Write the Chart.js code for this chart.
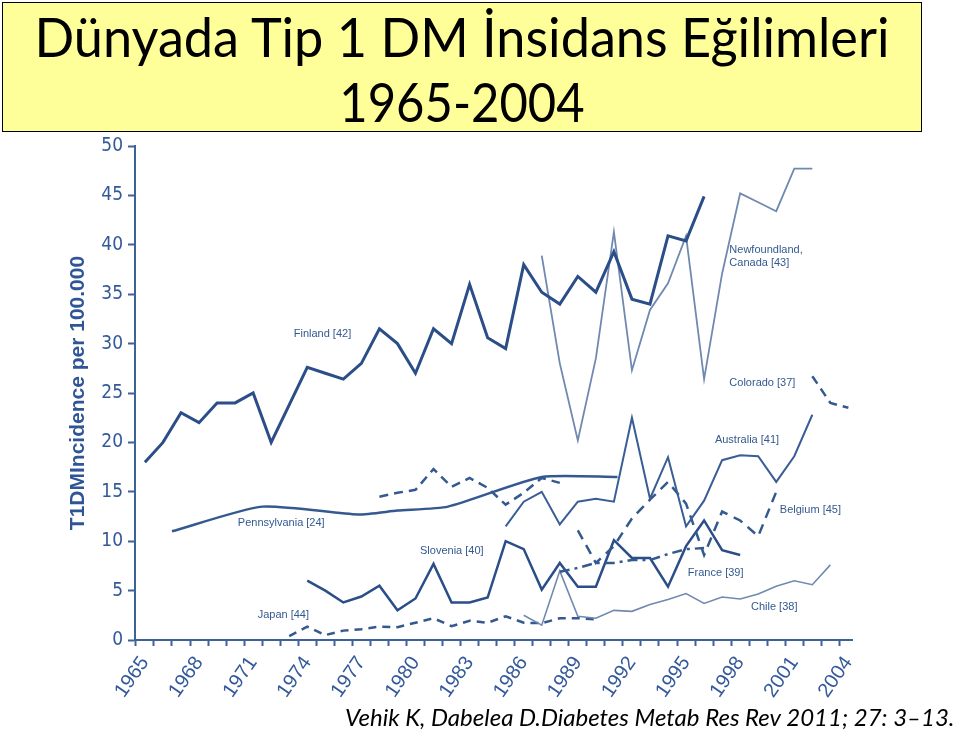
<!DOCTYPE html>
<html>
<head>
<meta charset="utf-8">
<script src="https://cdn.jsdelivr.net/npm/chart.js@4.4.1/dist/chart.umd.min.js"></script>
<style>
  html, body { margin: 0; padding: 0; background: #fff; }
  #wrap { position: relative; width: 960px; height: 734px; overflow: hidden; }
  #titleBox {
    position: absolute; left: 2px; top: 2px; width: 918px; height: 128px;
    background: #ffff99; border: 1.5px solid #000;
  }
  .tline {
    position: absolute; left: 0; width: 100%; text-align: center;
    font-family: Lato, sans-serif; font-size: 55px; color: #000; white-space: nowrap;
  }
  #cite {
    position: absolute; left: 345px; top: 702px; white-space: nowrap;
    font-family: Lato, sans-serif; font-style: italic; font-size: 24px; color: #000;
  }
  canvas { position: absolute; left: 0; top: 0; }
</style>
</head>
<body>
<div id="wrap">
  <canvas id="chart" width="960" height="734"></canvas>
  <div id="titleBox">
    <div class="tline" style="top: 0px; transform: scaleX(0.95);">Dünyada Tip 1 DM İnsidans Eğilimleri</div>
    <div class="tline" style="top: 65px; transform: scaleX(0.89);">1965-2004</div>
  </div>
  <div id="cite">Vehik K, Dabelea D.Diabetes Metab Res Rev 2011; 27: 3–13.</div>
</div>
<script>
// T1DM incidence per 100.000
const tickYears = [1965, 1968, 1971, 1974, 1977, 1980, 1983, 1986, 1989, 1992, 1995, 1998, 2001, 2004];

const finlandStart = 1965;
const finland = [18.0, 20.0, 23.0, 22.0, 24.0, 24.0, 25.0, 20.0, 23.8, 27.6, 27.0, 26.4, 28.0, 31.5, 30.0, 27.0,
  31.5, 30.0, 36.0, 30.6, 29.5, 38.0, 35.2, 34.0, 36.8, 35.2, 39.3, 34.5, 34.0, 40.9, 40.4, 44.9];

const pennsylvaniaYears = [1966.5, 1971.5, 1976.8, 1979, 1981.8, 1987, 1991.2];
const pennsylvania = [11.0, 13.5, 12.7, 13.1, 13.5, 16.5, 16.5];

const newfoundlandStart = 1987;
const newfoundland = [38.9, 28.0, 20.2, 28.5, 41.3, 27.3, 33.4, 36.1, 40.9, 26.4, 37.1, 45.2, 44.3, 43.4, 47.7, 47.7];

const coloradoStart = 1978;   // registry 1978-1988, then 2002-2004
const colorado = [14.5, 14.9, 15.2, 17.3, 15.5, 16.4, 15.4, 13.7, 14.9, 16.4, 15.9];
const colorado2Start = 2002;
const colorado2 = [26.7, 24.0, 23.5];

const australiaStart = 1985;
const australia = [11.5, 14.0, 15.0, 11.7, 14.0, 14.3, 14.0, 22.5, 14.3, 18.5, 11.5, 14.1, 18.2, 18.7, 18.6, 16.0, 18.6, 22.8];

const belgiumStart = 1989;
const belgium = [11.1, 7.8, 9.5, 12.3, 14.2, 16.0, 13.8, 8.6, 13.0, 12.1, 10.5, 15.0];

const franceStart = 1988;
const france = [6.9, 7.3, 7.8, 7.8, 8.1, 8.1, 8.7, 9.2, 9.3];

const sloveniaStart = 1974;
const slovenia = [6.0, 5.0, 3.8, 4.4, 5.5, 3.0, 4.2, 7.7, 3.8, 3.8, 4.3, 10.0, 9.2, 5.1, 7.8, 5.4, 5.4, 10.1, 8.3, 8.3,
  5.4, 9.5, 12.1, 9.1, 8.6];

const chileStart = 1986;
const chile = [2.5, 1.5, 7.0, 2.4, 2.2, 3.0, 2.9, 3.6, 4.1, 4.7, 3.7, 4.35, 4.15, 4.65, 5.45, 6.0, 5.6, 7.6];

const japanStart = 1973;
const japan = [0.4, 1.35, 0.5, 0.95, 1.1, 1.35, 1.3, 1.75, 2.2, 1.4, 1.95, 1.75, 2.4, 1.75, 1.7, 2.2, 2.2, 2.1];

// series name labels placed in data space (year, incidence)
const seriesLabels = [
  { text: "Finland [42]", year: 1973.25, value: 31.0 },
  { text: "Pennsylvania [24]", year: 1970.15, value: 11.8 },
  { text: "Japan [44]", year: 1971.25, value: 2.5 },
  { text: "Slovenia [40]", year: 1980.25, value: 9.0 },
  { text: "Newfoundland,", year: 1997.4, value: 39.5 },
  { text: "Canada [43]", year: 1997.4, value: 38.2 },
  { text: "Colorado [37]", year: 1997.4, value: 26.0 },
  { text: "Australia [41]", year: 1996.6, value: 20.2 },
  { text: "Belgium [45]", year: 2000.2, value: 13.2 },
  { text: "France [39]", year: 1995.1, value: 6.8 },
  { text: "Chile [38]", year: 1998.6, value: 3.3 }
];

function pts(start, vals) {
  return vals.map((v, i) => ({ x: start + i, y: v }));
}

const dark = "#2b4e88";
const mid = "#34598f";
const light = "#7089b0";
const axisBlue = "#3d6199";

function line(data, color, width, dash) {
  return {
    data: data, borderColor: color, borderWidth: width, borderDash: dash || [],
    pointRadius: 0, fill: false, tension: 0, borderCapStyle: "butt", borderJoinStyle: "miter"
  };
}

const datasets = [
  line(pts(finlandStart, finland), dark, 3),
  Object.assign(line(pennsylvaniaYears.map((x, i) => ({ x: x, y: pennsylvania[i] })), mid, 2.5), { tension: 0.2 }),
  line(pts(newfoundlandStart, newfoundland), light, 1.8),
  line(pts(coloradoStart, colorado), mid, 2.5, [9, 6]),
  line(pts(colorado2Start, colorado2), mid, 2.5, [9, 6]),
  line(pts(australiaStart, australia), "#3a5d96", 2),
  line(pts(belgiumStart, belgium), mid, 2.5, [10, 7]),
  line(pts(franceStart, france), mid, 2.5, [10, 5, 3, 5]),
  line(pts(sloveniaStart, slovenia), dark, 2.5),
  line(pts(chileStart, chile), light, 1.6),
  line(pts(japanStart, japan), mid, 2.5, [8, 6])
];

const labelPlugin = {
  id: "seriesLabels",
  afterDatasetsDraw(chart) {
    const ctx = chart.ctx;
    const xs = chart.scales.x, ys = chart.scales.y;
    ctx.save();
    ctx.font = "11px 'Liberation Sans', Arial, sans-serif";
    ctx.fillStyle = "#34598f";
    ctx.textAlign = "left";
    ctx.textBaseline = "middle";
    seriesLabels.forEach(l => {
      ctx.fillText(l.text, xs.getPixelForValue(l.year), ys.getPixelForValue(l.value));
    });
    ctx.restore();
  }
};

new Chart(document.getElementById("chart"), {
  type: "line",
  data: { datasets: datasets },
  options: {
    responsive: false,
    animation: false,
    devicePixelRatio: 1,
    layout: { padding: { left: 58, top: 146, right: 108, bottom: 34 } },
    plugins: { legend: { display: false }, tooltip: { enabled: false } },
    scales: {
      x: {
        type: "linear",
        min: 1964.45,
        max: 2004.2,
        afterBuildTicks: s => {
          const t = [];
          for (let y = 1964.5; y < 2004; y += 1) t.push({ value: y });
          tickYears.forEach(y => t.push({ value: y }));
          t.sort((a, b) => a.value - b.value);
          s.ticks = t;
        },
        afterFit: s => { s.height = 60; },
        ticks: {
          autoSkip: false,
          minRotation: 55,
          maxRotation: 55,
          padding: 6,
          color: "#33599a",
          font: { family: "'Liberation Sans', Arial, sans-serif", size: 20 },
          callback: v => (tickYears.includes(v) ? String(v) : "")
        },
        grid: {
          drawOnChartArea: false,
          drawTicks: true,
          tickLength: 6,
          tickWidth: 2,
          tickColor: c => (c.tick && Number.isInteger(c.tick.value) ? "rgba(0,0,0,0)" : axisBlue)
        },
        border: { color: axisBlue, width: 2 }
      },
      y: {
        min: 0,
        max: 50,
        afterFit: s => { s.width = 77; },
        ticks: {
          stepSize: 5,
          padding: 5,
          color: "#33599a",
          font: { family: "'Liberation Sans Narrow', 'DejaVu Sans Condensed', sans-serif", size: 19 }
        },
        grid: { drawOnChartArea: false, tickLength: 7, tickWidth: 2, tickColor: axisBlue },
        border: { color: axisBlue, width: 2 },
        title: {
          display: true,
          text: "T1DMIncidence per 100.000",
          color: "#2f5597",
          padding: { top: 8, bottom: 0 },
          font: { family: "'Liberation Sans', Arial, sans-serif", size: 21, weight: "bold" }
        }
      }
    }
  },
  plugins: [labelPlugin]
});
</script>
</body>
</html>
